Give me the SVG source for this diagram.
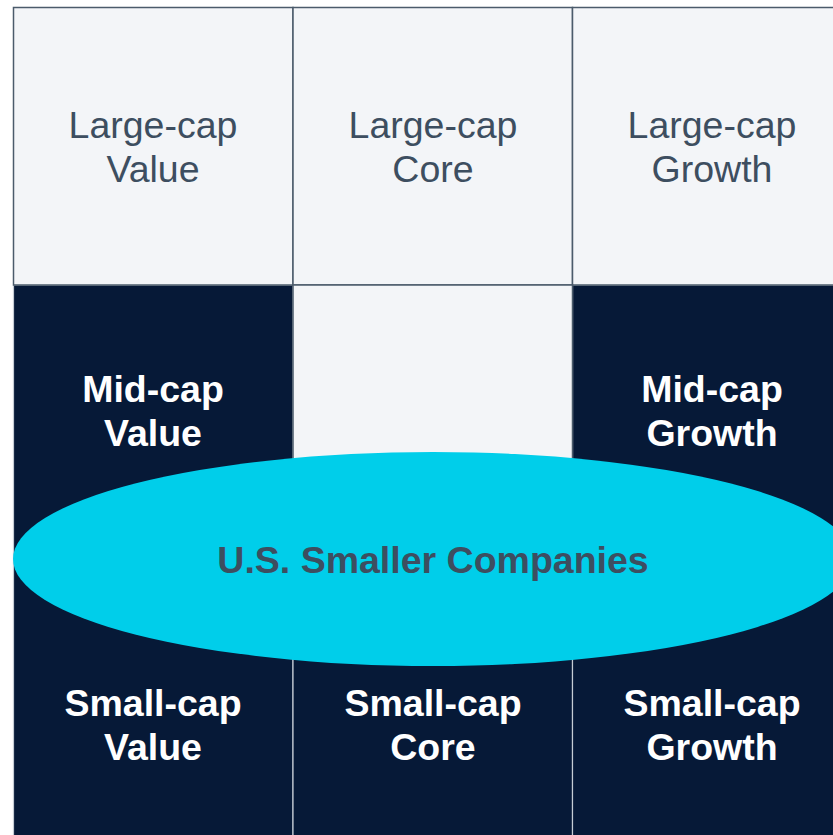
<svg xmlns="http://www.w3.org/2000/svg" width="833" height="835" viewBox="0 0 833 835">
<style>
.light{fill:#f3f5f8;stroke:#4b5b6b;stroke-width:1.5}
.dark{fill:#061937;stroke:#c5ccd4;stroke-width:1.2}
.lt{font-family:"Liberation Sans",Arial,sans-serif;font-size:37.5px;fill:#3d4e60;text-anchor:middle}
.dt{font-family:"Liberation Sans",Arial,sans-serif;font-size:37.5px;font-weight:bold;fill:#ffffff;text-anchor:middle}
.et{font-family:"Liberation Sans",Arial,sans-serif;font-size:37.5px;font-weight:bold;fill:#3d4e60;text-anchor:middle}
</style>
<rect width="833" height="835" fill="#ffffff"/>
<g id="mid-cap-value"><rect class="dark" x="13.5" y="285" width="279.5" height="278"/><text class="dt" x="153" y="402">Mid-cap</text><text class="dt" x="153" y="446">Value</text></g>
<g id="mid-cap-growth"><rect class="dark" x="572.5" y="285" width="280" height="278"/><text class="dt" x="712" y="402">Mid-cap</text><text class="dt" x="712" y="446">Growth</text></g>
<g id="small-cap-value"><rect class="dark" x="13.5" y="563" width="279.5" height="280"/><text class="dt" x="153" y="716">Small-cap</text><text class="dt" x="153" y="760">Value</text></g>
<g id="small-cap-core"><rect class="dark" x="293" y="563" width="279.5" height="280"/><text class="dt" x="433" y="716">Small-cap</text><text class="dt" x="433" y="760">Core</text></g>
<g id="small-cap-growth"><rect class="dark" x="572.5" y="563" width="280" height="280"/><text class="dt" x="712" y="716">Small-cap</text><text class="dt" x="712" y="760">Growth</text></g>
<g id="large-cap-value"><rect class="light" x="13.5" y="7.5" width="279.5" height="277.5"/><text class="lt" x="153" y="138">Large-cap</text><text class="lt" x="153" y="182">Value</text></g>
<g id="large-cap-core"><rect class="light" x="293" y="7.5" width="279.5" height="277.5"/><text class="lt" x="433" y="138">Large-cap</text><text class="lt" x="433" y="182">Core</text></g>
<g id="large-cap-growth"><rect class="light" x="572.5" y="7.5" width="280" height="277.5"/><text class="lt" x="712" y="138">Large-cap</text><text class="lt" x="712" y="182">Growth</text></g>
<g id="mid-cap-core"><rect class="light" x="293" y="285" width="279.5" height="278"/></g>
<g id="us-smaller-companies"><ellipse cx="433" cy="559" rx="420" ry="107" fill="#00ceea"/><text class="et" x="433" y="573">U.S. Smaller Companies</text></g>
<g id="connectors"></g>
</svg>
